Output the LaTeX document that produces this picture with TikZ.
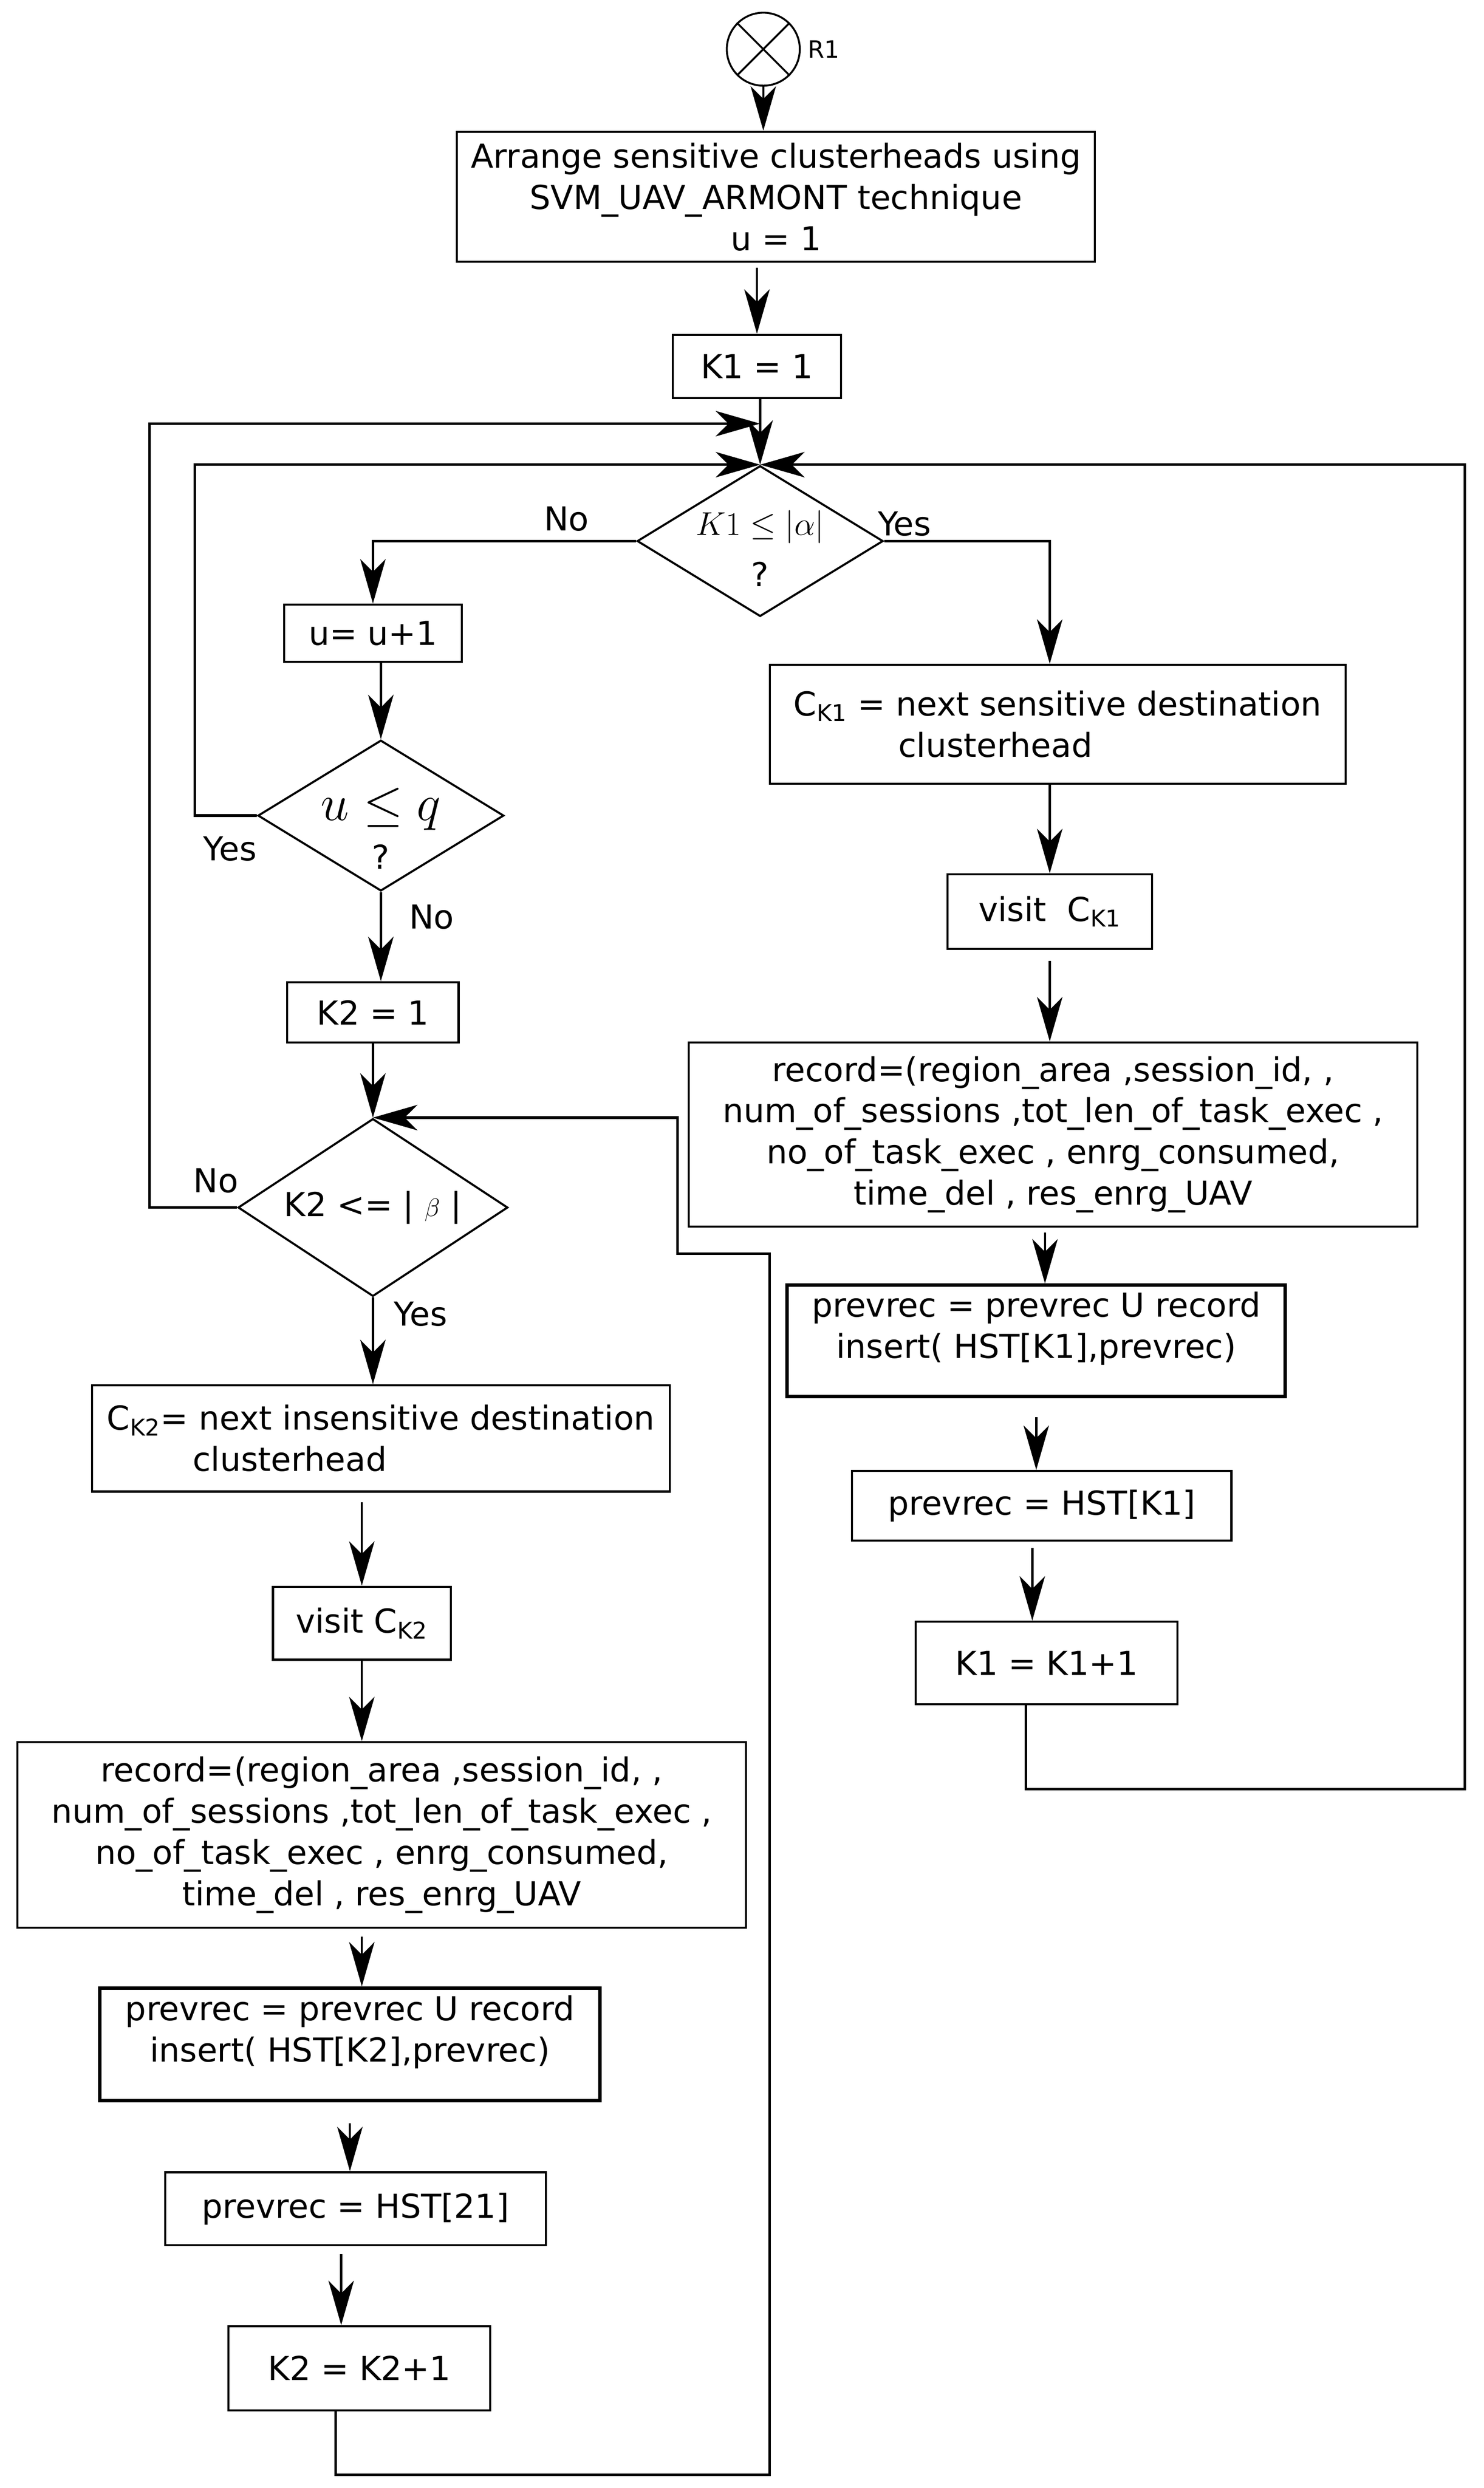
\RequirePackage{fix-cm}
\documentclass[tikz,border=0pt]{standalone}
\usepackage{fontspec}
\setmainfont{DejaVu Sans}
\usetikzlibrary{arrows.meta,shapes.geometric}

\begin{document}
\begin{tikzpicture}[->,>={Stealth[length=28pt,width=16pt,inset=8pt]},x=1pt,y=-1pt,line width=1.4pt,
    box/.style={rectangle,draw,line width=1.3pt,inner sep=2pt,align=center,font=\fontsize{20.8pt}{26pt}\selectfont},
    heavy box/.style={box,line width=2.2pt},
    decision/.style={diamond,draw,line width=1.3pt,inner sep=0pt},
    dtext/.style={inner sep=0pt,font=\fontsize{20.8pt}{26pt}\selectfont},
    answer/.style={inner sep=0pt,font=\fontsize{20.8pt}{26pt}\selectfont},
    back line/.style={line width=1.6pt}]
                    \useasboundingbox (0,0) rectangle (935,1568);

                    \node[circle,draw,line width=1.2pt,minimum size=46pt,inner sep=0pt] (r1) at (481,31) {};
                    \draw[-,line width=1.2pt] (r1.north west) -- (r1.south east) (r1.north east) -- (r1.south west);
                    \node[font=\fontsize{15pt}{18pt}\selectfont,node distance=38pt] (r1 tag) [right of = r1] {R1};

                    \node[box,minimum width=402pt,minimum height=82pt,node distance=93pt] (b1) [below of = r1, xshift=8pt] {Arrange sensitive clusterheads using\\SVM\_UAV\_ARMONT technique\\u = 1};
                    \node[box,minimum width=106pt,minimum height=40pt,node distance=107pt] (k1) [below of = b1, xshift=-12pt] {K1 = 1};
                    \node[decision,minimum width=155pt,minimum height=95pt,node distance=110pt] (d1) [below of = k1, xshift=2pt] {};

                    \node[box,minimum width=112pt,minimum height=36pt,node distance=58pt] (u) [below of = d1, xshift=-244pt] {u= u+1};
                    \node[decision,minimum width=155pt,minimum height=95pt,node distance=115pt] (d2) [below of = u, xshift=5pt] {};
                    \node[box,minimum width=108pt,minimum height=38pt,node distance=124pt] (k2) [below of = d2, xshift=-5pt] {K2 = 1};
                    \node[decision,minimum width=170pt,minimum height=112pt,node distance=123pt] (d3) [below of = k2] {};
                    \node[box,align=left,minimum width=364pt,minimum height=67pt,node distance=145.5pt] (ck2) [below of = d3, xshift=5pt] {C\textsubscript{K2}= next insensitive destination\\\hspace*{54pt}clusterhead};
                    \node[box,minimum width=112pt,minimum height=46pt,node distance=116.5pt] (vk2) [below of = ck2, xshift=-12pt] {visit C\textsubscript{K2}};
                    \node[box,minimum width=459pt,minimum height=117pt,node distance=133.5pt] (rec2) [below of = vk2, xshift=12.5pt] {record=(region\_area ,session\_id, ,\\num\_of\_sessions ,tot\_len\_of\_task\_exec ,\\no\_of\_task\_exec , enrg\_consumed,\\time\_del , res\_enrg\_UAV};
                    \node[heavy box,minimum width=315pt,minimum height=71pt,node distance=132pt] (pr2) [below of = rec2, xshift=-20pt] {prevrec = prevrec U record\\insert( HST[K2],prevrec)\\[-6pt]\mbox{}};
                    \node[box,minimum width=240pt,minimum height=46pt,node distance=103.5pt] (hst2) [below of = pr2, xshift=3.5pt] {prevrec = HST[21]};
                    \node[box,minimum width=165pt,minimum height=53pt,node distance=100.5pt] (inc2) [below of = hst2, xshift=2.5pt] {K2 = K2+1};

                    \node[box,align=left,minimum width=363pt,minimum height=75pt,node distance=115.5pt] (ck1) [below of = d1, xshift=187.5pt] {C\textsubscript{K1} = next sensitive destination\\\hspace*{66pt}clusterhead};
                    \node[box,minimum width=129pt,minimum height=47pt,node distance=118pt] (vk1) [below of = ck1, xshift=-5pt] {visit \ C\textsubscript{K1}};
                    \node[box,minimum width=459pt,minimum height=116pt,node distance=140.5pt] (rec1) [below of = vk1, xshift=2pt] {record=(region\_area ,session\_id, ,\\num\_of\_sessions ,tot\_len\_of\_task\_exec ,\\no\_of\_task\_exec , enrg\_consumed,\\time\_del , res\_enrg\_UAV};
                    \node[heavy box,minimum width=314pt,minimum height=70pt,node distance=130pt] (pr1) [below of = rec1, xshift=-10.5pt] {prevrec = prevrec U record\\insert( HST[K1],prevrec)\\[-6pt]\mbox{}};
                    \node[box,minimum width=239pt,minimum height=44pt,node distance=104pt] (hst1) [below of = pr1, xshift=3.5pt] {prevrec = HST[K1]};
                    \node[box,minimum width=165pt,minimum height=52pt,node distance=99pt] (inc1) [below of = hst1, xshift=3pt] {K1 = K1+1};

                    % texts in the decisions
                    \node[dtext,node distance=9pt] (d1 math) [above of = d1] {$K1 \le |\alpha|$};
                    \node[dtext,node distance=21pt] (d1 ask) [below of = d1] {?};
                    \node[dtext,font=\fontsize{32pt}{36pt}\selectfont,node distance=4pt] (d2 math) [above of = d2] {$u \le q$};
                    \node[dtext,node distance=26pt] (d2 ask) [below of = d2] {?};
                    \node[dtext] (d3 text) at (d3) {K2 <= | {\fontsize{16pt}{18pt}\selectfont$\beta$} |};

                    \node[answer] (no top) at (357,327) {No};
                    \node[answer] (yes top) at (570,330) {Yes};
                    \node[answer] (yes mid) at (145,535) {Yes};
                    \node[answer] (no mid) at (272,578) {No};
                    \node[answer] (no low) at (136,744) {No};
                    \node[answer] (yes low) at (265,828) {Yes};

                    \path
                            (r1.south) edge (r1.south |- b1.north)
                            (k1.north |- b1.south) edge [shorten <=3pt] (k1.north)
                            (d1.north |- k1.south) edge (d1.north)

                            (d2.north |- u.south) edge (d2.north)
                            (d2.south) edge (d2.south |- k2.north)
                            (d3.north |- k2.south) edge (d3.north)
                            (d3.south) edge (d3.south |- ck2.north)
                            (vk2.north |- ck2.south) edge [shorten <=6pt] (vk2.north)
                            (vk2.south) edge (vk2.south |- rec2.north)
                            (vk2.south |- rec2.south) edge [shorten <=5pt] (vk2.south |- pr2.north)
                            (pr2.south) edge [shorten <=13pt] (pr2.south |- hst2.north)
                            ([xshift=-9pt]hst2.south) edge [shorten <=5pt] ([xshift=-9pt]hst2.south |- inc2.north)

                            (vk1.north |- ck1.south) edge (vk1.north)
                            (vk1.south) edge [shorten <=7pt] (vk1.south |- rec1.north)
                            ([xshift=-5pt]rec1.south) edge [shorten <=3pt] ([xshift=-5pt]rec1.south |- pr1.north)
                            (pr1.south) edge [shorten <=12pt] (pr1.south |- hst1.north)
                            ([xshift=-6pt]hst1.south) edge [shorten <=4pt] ([xshift=-6pt]hst1.south |- inc1.north)
                        ;

                    \draw (d1.west) -| (u.north);
                    \draw (d1.east) -| ([xshift=-5pt]ck1.north);

                    % loops back to the decisions
                    \coordinate (no join) at (d1.north |- 0,267);
                    \coordinate (right turn) at (d1.north -| 923,0);
                    \coordinate (right step) at (485,790);
                    \coordinate (left step) at (d3.north -| 427,0);

                    \draw[back line] (d3.west) -- ++(-55,0) |- (no join);
                    \draw[back line] (d2.west) -- ++(-39,0) |- (d1.north);
                    \draw[back line] ([xshift=-13pt]inc1.south) -- ++(0,53) -| (right turn) -- (d1.north);
                    \draw[back line] ([xshift=-15pt]inc2.south) -- ++(0,40) -| (right step) -| (left step) -- (d3.north);
                \end{tikzpicture}
\end{document}
